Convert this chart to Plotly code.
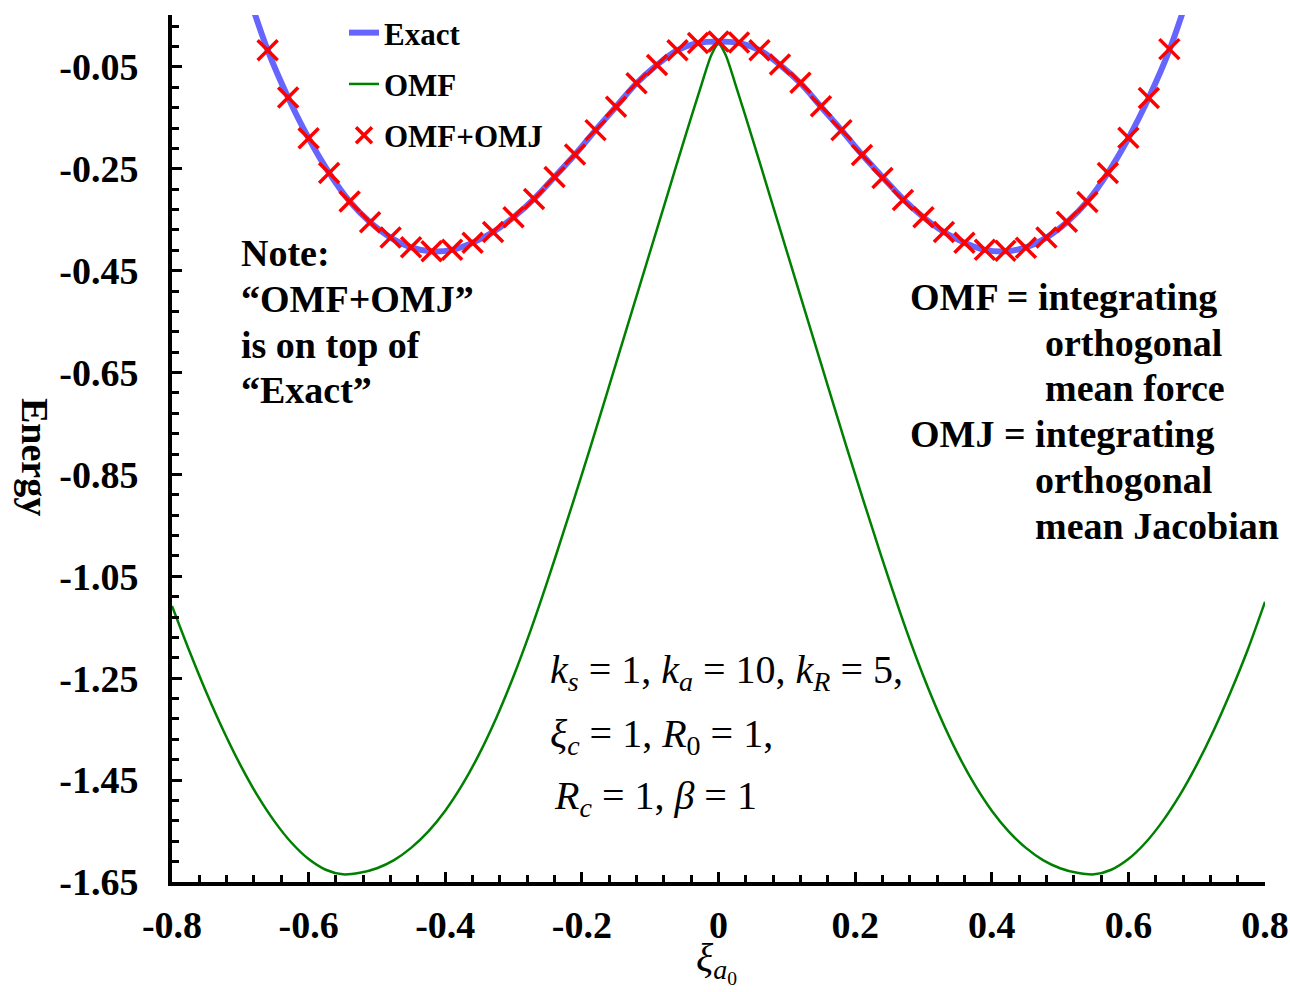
import plotly.graph_objects as go

# ---------------- data ----------------
# Exact curve
x_exact = [-0.72, -0.69, -0.66, -0.63, -0.60, -0.57, -0.54, -0.51, -0.48, -0.45, -0.42, -0.39,
           -0.36, -0.33, -0.30, -0.27, -0.24, -0.21, -0.18, -0.15, -0.12, -0.09, -0.06, -0.03,
           0.00, 0.03, 0.06, 0.09, 0.12, 0.15, 0.18, 0.21, 0.24, 0.27, 0.30, 0.33, 0.36, 0.39,
           0.42, 0.45, 0.48, 0.51, 0.54, 0.57, 0.60, 0.63, 0.66, 0.69, 0.72]
e_exact = [0.230, 0.100, -0.017, -0.110, -0.190, -0.258, -0.314, -0.355, -0.385, -0.404, -0.412, -0.409,
           -0.395, -0.374, -0.345, -0.309, -0.266, -0.222, -0.174, -0.128, -0.082, -0.046, -0.017, -0.003,
           0.000, -0.003, -0.017, -0.046, -0.082, -0.128, -0.174, -0.222, -0.266, -0.309, -0.345, -0.374, -0.395, -0.409,
           -0.412, -0.404, -0.385, -0.355, -0.314, -0.258, -0.190, -0.110, -0.017, 0.100, 0.230]

# OMF curve
x_omf = [-0.800, -0.775, -0.750, -0.725, -0.700, -0.675, -0.650, -0.625, -0.600, -0.575, -0.550,
         -0.525, -0.500, -0.475, -0.450, -0.425, -0.400, -0.375, -0.350, -0.325, -0.300, -0.275,
         -0.250, -0.225, -0.200, -0.175, -0.150, -0.125, -0.100, -0.075, -0.050, -0.025, -0.010,
         0.000, 0.010, 0.025, 0.050, 0.075, 0.100, 0.125, 0.150, 0.175, 0.200, 0.225, 0.250,
         0.275, 0.300, 0.325, 0.350, 0.375, 0.400, 0.425, 0.450, 0.475, 0.500, 0.525, 0.550,
         0.575, 0.600, 0.625, 0.650, 0.675, 0.700, 0.725, 0.750, 0.775, 0.800]
e_omf = [-1.108, -1.195, -1.277, -1.352, -1.420, -1.480, -1.531, -1.573, -1.605, -1.626, -1.635,
         -1.632, -1.623, -1.607, -1.583, -1.551, -1.510, -1.459, -1.398, -1.327, -1.246, -1.156,
         -1.058, -0.955, -0.850, -0.742, -0.632, -0.522, -0.412, -0.302, -0.192, -0.085, -0.025,
         -0.005, -0.025, -0.085, -0.192, -0.302, -0.412, -0.522, -0.632, -0.742, -0.850, -0.955, -1.058,
         -1.156, -1.246, -1.327, -1.398, -1.459, -1.510, -1.551, -1.583, -1.607, -1.623, -1.632, -1.635,
         -1.626, -1.605, -1.573, -1.531, -1.480, -1.420, -1.352, -1.276, -1.193, -1.100]

# OMF+OMJ markers
x_omj = [-0.66, -0.63, -0.60, -0.57, -0.54, -0.51, -0.48, -0.45, -0.42, -0.39, -0.36, -0.33,
         -0.30, -0.27, -0.24, -0.21, -0.18, -0.15, -0.12, -0.09, -0.06, -0.03, 0.00, 0.03,
         0.06, 0.09, 0.12, 0.15, 0.18, 0.21, 0.24, 0.27, 0.30, 0.33, 0.36, 0.39, 0.42, 0.45,
         0.48, 0.51, 0.54, 0.57, 0.60, 0.63, 0.66]
e_omj = [-0.017, -0.110, -0.190, -0.258, -0.314, -0.355, -0.385, -0.404, -0.412, -0.409, -0.395, -0.374,
         -0.345, -0.309, -0.266, -0.222, -0.174, -0.128, -0.082, -0.046, -0.017, -0.003, 0.000, -0.002,
         -0.017, -0.045, -0.081, -0.127, -0.174, -0.223, -0.268, -0.311, -0.345, -0.374, -0.395, -0.409, -0.411, -0.405,
         -0.385, -0.354, -0.315, -0.258, -0.189, -0.111, -0.015]

x_tickvals = [-0.8, -0.6, -0.4, -0.2, 0.0, 0.2, 0.4, 0.6, 0.8]
x_ticktext = ["-0.8", "-0.6", "-0.4", "-0.2", "0", "0.2", "0.4", "0.6", "0.8"]
y_tickvals = [-0.05, -0.25, -0.45, -0.65, -0.85, -1.05, -1.25, -1.45, -1.65]
y_ticktext = ["-0.05", "-0.25", "-0.45", "-0.65", "-0.85", "-1.05", "-1.25", "-1.45", "-1.65"]

FONT = "Liberation Serif"

# ---------------- figure ----------------
fig = go.Figure()
fig.add_trace(go.Scatter(x=x_omf, y=e_omf, mode="lines", name="OMF", legendrank=2,
                         legendgroup="b",
                         line=dict(color="rgb(0,128,0)", width=2.5, shape="spline", smoothing=0.8)))
fig.add_trace(go.Scatter(x=x_exact, y=e_exact, mode="lines", name="Exact", legendrank=1,
                         legendgroup="a",
                         line=dict(color="rgb(102,102,255)", width=6, shape="spline", smoothing=1.0)))
fig.add_trace(go.Scatter(x=x_omj, y=e_omj, mode="markers", name="OMF+OMJ", legendrank=3,
                         legendgroup="c",
                         marker=dict(symbol="x-thin", size=20, color="red",
                                     line=dict(color="red", width=3.5))))

W, H = 1290, 992
# plot area in window pixels
Lr, Rr, Tr, Br = 172, 1265, 15, 882
L, T, R, B = Lr, Tr, W - Rr, H - Br


def px(x):
    return (x - Lr) / (Rr - Lr)


def py(y):
    return (Br - y) / (Br - Tr)


axis_common = dict(showgrid=False, zeroline=False, showline=True, linecolor="black", linewidth=4,
                   ticks="inside", ticklen=10, tickwidth=3, tickcolor="black",
                   ticklabeloverflow="allow",
                   tickfont=dict(family=FONT, size=38, color="black", weight="bold"))

fig.update_xaxes(range=[-0.8, 0.8], tickmode="array", tickvals=x_tickvals, ticktext=x_ticktext,
                 minor=dict(ticks="inside", dtick=0.04, tick0=-0.8, ticklen=7, tickwidth=3,
                            tickcolor="black"),
                 ticklabelstandoff=6, **axis_common)
fig.update_yaxes(range=[-1.65, 0.052], tickmode="array", tickvals=y_tickvals, ticktext=y_ticktext,
                 minor=dict(ticks="inside", dtick=0.04, tick0=-0.05, ticklen=7, tickwidth=3,
                            tickcolor="black"),
                 ticklabelstandoff=22, **axis_common)

annots = []
# y axis title
annots.append(dict(text="<b>Energy</b>", x=px(35), y=py(457), xref="paper", yref="paper",
                   textangle=90, showarrow=False, xanchor="center", yanchor="middle",
                   font=dict(family=FONT, size=38, color="black")))
# x axis title
annots.append(dict(text="<i>ξ</i><sub><i>a</i><sub>0</sub></sub>", x=px(716), y=py(962),
                   xref="paper", yref="paper", showarrow=False, xanchor="center", yanchor="middle",
                   font=dict(family=FONT, size=40, color="black")))
# Note
note_lines = [("Note:", 239, 253), ("“OMF+OMJ”", 239, 299), ("is on top of", 239, 345), ("“Exact”", 239, 390)]
for t, xx, yy in note_lines:
    annots.append(dict(text="<b>" + t + "</b>", x=px(xx), y=py(yy), xref="paper", yref="paper",
                       showarrow=False, xanchor="left", yanchor="middle",
                       font=dict(family=FONT, size=38, color="black")))
# Right side definitions
right_lines = [("OMF = integrating", 908, 297), ("orthogonal", 1043, 343), ("mean force", 1043, 388),
               ("OMJ = integrating", 908, 434), ("orthogonal", 1033, 480), ("mean Jacobian", 1033, 526)]
for t, xx, yy in right_lines:
    annots.append(dict(text="<b>" + t + "</b>", x=px(xx), y=py(yy), xref="paper", yref="paper",
                       showarrow=False, xanchor="left", yanchor="middle",
                       font=dict(family=FONT, size=38, color="black")))
# Parameter block
param_lines = [
    ("<i>k</i><sub><i>s</i></sub> = 1, <i>k</i><sub><i>a</i></sub> = 10, <i>k</i><sub><i>R</i></sub> = 5,", 548, 672),
    ("<i>ξ</i><sub><i>c</i></sub> = 1, <i>R</i><sub>0</sub> = 1,", 548, 736),
    ("<i>R</i><sub><i>c</i></sub> = 1, <i>β</i> = 1", 552, 798),
]
for t, xx, yy in param_lines:
    annots.append(dict(text=t, x=px(xx), y=py(yy), xref="paper", yref="paper",
                       showarrow=False, xanchor="left", yanchor="middle",
                       font=dict(family=FONT, size=40, color="black")))

fig.update_layout(
    width=W, height=H,
    margin=dict(l=L, r=R, t=T, b=B, autoexpand=False),
    paper_bgcolor="white", plot_bgcolor="white",
    showlegend=True,
    legend=dict(xref="container", yref="container",
                x=344 / W, y=1 - 6 / H, xanchor="left", yanchor="top",
                bgcolor="rgba(0,0,0,0)", borderwidth=0, tracegroupgap=8,
                font=dict(family=FONT, size=31, color="black", weight="bold")),
    annotations=annots,
)

# remove the browser's default 8px body margin so the figure fills the window exactly
fig.write_html("out.html", config={"displayModeBar": False},
               post_script="document.body.style.margin='0';document.body.style.overflow='hidden';")
